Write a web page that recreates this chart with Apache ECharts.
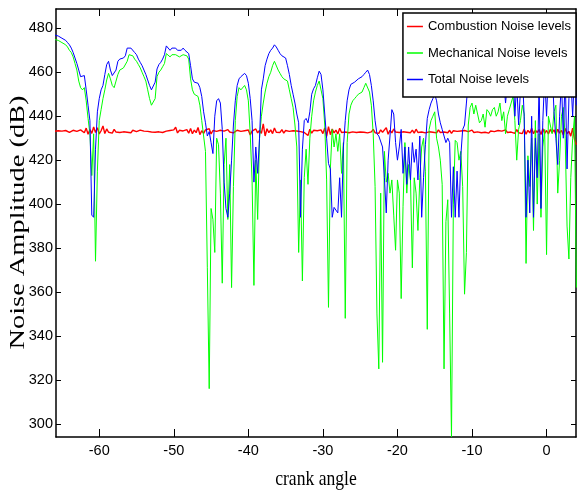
<!DOCTYPE html>
<html>
<head>
<meta charset="utf-8">
<script src="https://cdn.jsdelivr.net/npm/echarts@6/dist/echarts.min.js"></script>
<style>
  html, body { margin: 0; padding: 0; background: #fff; }
  #chart { width: 577px; height: 491px; }
</style>
</head>
<body>
<div id="chart"></div>
<script>
// Crank-angle sampling: from -66 deg in steps of 0.25 deg
const angleStart = -66;
const angleStep = 0.25;

// Tick positions on both axes
const angleTicks = [-60, -50, -40, -30, -20, -10, 0];
const levelTicks = [300, 320, 340, 360, 380, 400, 420, 440, 460, 480];

const seriesNames = ['Combustion Noise levels', 'Mechanical Noise levels', 'Total Noise levels'];

// Combustion noise level (dB) per sample
const combustion = [
  433.1, 432.8, 433.4, 432.9, 433.2, 432.6, 433.5, 433.0, 432.7, 433.3,
  433.6, 432.9, 433.1, 432.4, 433.8, 433.0, 432.5, 434.6, 431.8, 433.9,
  432.2, 435.1, 432.6, 434.8, 431.9, 433.4, 435.6, 432.1, 434.2, 432.7,
  433.5, 432.3, 434.0, 432.8, 433.2, 432.6, 433.4, 432.9, 433.1, 432.7,
  433.3, 432.5, 433.6, 432.8, 433.0, 432.4, 433.7, 432.9, 433.2, 432.6,
  433.1, 433.5, 432.8, 433.0, 432.7, 433.3, 432.9, 433.4, 432.6, 433.0,
  433.2, 432.7, 433.5, 432.9, 433.8, 435.0, 432.4, 433.6, 432.8, 433.3,
  432.6, 433.9, 432.3, 434.4, 432.0, 433.7, 432.5, 434.9, 431.6, 433.4,
  432.2, 433.8, 432.9, 434.3, 431.9, 433.5, 432.6, 433.1, 432.8, 433.6,
  432.7, 433.2, 432.5, 433.9, 432.8, 433.3, 432.4, 433.0, 433.6, 432.7,
  433.1, 432.5, 433.4, 432.9, 433.7, 431.5, 433.2, 432.8, 434.2, 432.4,
  433.6, 432.2, 436.5, 431.0, 434.3, 432.5, 433.8, 432.1, 434.6, 432.7,
  433.2, 432.6, 433.9, 432.3, 433.5, 432.8, 433.1, 432.7, 433.4, 432.9,
  433.3, 432.4, 433.0, 433.7, 432.6, 433.2, 431.2, 434.1, 432.3, 433.6,
  432.8, 433.4, 432.5, 433.8, 432.1, 434.7, 430.8, 435.3, 431.6, 434.2,
  432.4, 433.7, 431.9, 434.5, 432.6, 433.3, 432.8, 433.0, 432.5, 433.4,
  432.9, 433.2, 432.6, 433.5, 432.8, 433.1, 432.7, 433.6, 432.4, 433.3,
  432.9, 434.0, 432.5, 433.4, 432.2, 433.8, 432.7, 433.1, 434.8, 431.8,
  433.6, 432.4, 434.2, 432.8, 433.0, 432.6, 433.5, 432.9, 433.2, 432.7,
  433.4, 432.5, 433.7, 432.3, 434.1, 432.6, 433.3, 432.8, 433.6, 432.4,
  433.2, 432.9, 433.5, 432.7, 433.1, 432.4, 433.8, 432.6, 433.3, 432.8,
  433.0, 432.5, 433.6, 432.2, 433.4, 432.7, 433.1, 432.9, 433.3, 432.6,
  433.5, 432.8, 433.0, 432.4, 433.7, 432.6, 433.2, 432.9, 433.4, 432.5,
  433.1, 432.7, 433.6, 432.3, 433.3, 432.8, 433.0, 432.6, 433.5, 432.9,
  433.2, 432.4, 433.8, 432.6, 433.1, 432.8, 433.4, 432.2, 433.9, 432.5,
  433.3, 432.1, 434.2, 431.8, 433.6, 432.4, 434.5, 432.0, 433.7, 432.6,
  433.9, 431.7, 434.3, 432.2, 433.5, 431.9, 434.0, 432.5, 433.8, 431.6,
  434.1, 432.3, 433.6, 431.4, 434.4, 432.0, 433.2, 430.9, 434.6, 429.5,
  427.0
];

// Mechanical noise level (dB) per sample
const mechanical = [
  475, 475, 474.5, 474, 473.5, 473, 472.5, 471.5, 470, 469,
  467, 464, 461, 456, 453, 452, 453, 447, 439, 432,
  413, 432, 374, 415, 438, 443, 448, 452, 456.5, 459.5,
  457, 454, 453, 456, 459, 461, 461.5, 462, 462.5, 465,
  468, 468.5, 467.5, 466, 465, 463.5, 462, 460, 458, 456,
  452, 448, 445, 445.5, 448, 458, 460, 461, 462.5, 464,
  468.5, 468, 467, 468, 468.5, 468, 467.5, 467, 467.5, 468,
  468, 467.5, 466, 457, 452, 450, 449.5, 449, 445, 438,
  431, 424, 371, 316, 398, 393, 378, 430, 427, 405,
  364, 418, 430, 393, 418, 362, 408, 438, 449, 453,
  452, 452.5, 454, 452, 447, 432, 411, 363, 420, 393,
  430, 440, 446, 451, 455, 458, 460, 463, 465, 464.5,
  461, 459.5, 458, 457, 457, 456, 452, 448, 444, 436,
  426, 378, 411, 365, 412, 425, 409, 430, 440, 447,
  451, 454, 456, 456, 448, 436, 411, 353, 416, 434,
  426, 432, 424, 432, 414, 428, 348, 428, 441, 445,
  447, 448, 449, 450, 450, 451, 453, 455, 455, 451,
  445, 432, 408, 350, 325, 405, 328, 424, 410, 414,
  405, 411, 395, 379, 411, 405, 357, 399, 428, 405,
  418, 411, 371, 412, 405, 388, 412, 426, 430, 415,
  343, 434, 438, 440, 442, 430, 426, 420, 409, 325,
  392, 402, 350, 294, 400, 429, 428, 420, 424, 408,
  359, 378, 436, 444, 446, 441, 445, 441, 437, 438,
  441, 435, 443, 442, 440, 443, 444, 440, 442, 446,
  438, 442, 432, 440, 443, 446, 449, 438, 420, 434,
  438, 445, 441, 373, 422, 408, 430, 388, 438, 400,
  432, 394, 426, 434, 377, 440, 436, 432, 442, 445,
  405, 420, 440, 444, 430, 390, 375, 412, 430, 440,
  362
];

// Total noise level (dB) per sample
const total = [
  477, 477, 476.5, 476, 475.5, 475, 474.5, 473.5, 472.5, 471,
  469, 466.5, 464, 461, 458, 457.5, 458.5, 452, 445, 438,
  395, 394, 425, 442, 448, 452, 454, 459, 463.5, 465,
  461, 458.5, 458, 461, 465, 466, 466.5, 466.5, 467.5, 471,
  471.5, 471, 470.5, 469, 468, 466, 464.5, 463, 461, 459,
  456.5, 454, 452, 452.5, 455.5, 461.5, 463.5, 464.5, 466, 468,
  472, 471.5, 470, 471, 470.5, 471, 470, 470.5, 470, 471,
  470, 470.5, 468.5, 463, 457, 455.5, 456, 455, 453, 449,
  442, 437, 431, 433, 428, 423, 440, 447, 448, 446,
  434, 410, 398, 394, 405, 420, 436, 447, 454, 457,
  458, 458, 459.5, 458.5, 455, 448, 438, 410, 426, 414,
  430, 452, 457, 463, 466, 468.5, 470, 471, 472.5, 471.5,
  470, 468.5, 467.5, 467, 466.5, 463, 459, 454, 450, 446,
  441, 437, 394, 425, 438, 439, 437, 442, 450, 452.5,
  454, 457.5, 460.5, 459, 452, 441, 430, 418.5, 416, 394,
  398.5, 399, 396, 412, 394, 426, 438, 447, 452, 454.5,
  455, 455.5, 456, 457, 457.5, 458, 459, 460, 461, 459,
  454, 447, 438, 432, 431, 430.5, 426, 412, 396, 420,
  431, 443, 441, 428, 420, 426, 434, 414, 426, 409,
  426, 411, 428, 419, 425, 411, 431, 394, 412, 427,
  439, 443, 446, 448, 450, 447, 441, 437, 434, 431,
  428, 430, 428, 394, 417, 394, 415, 394, 422, 434,
  436, 446, 456, 462, 465, 462, 460, 458, 456, 457,
  455, 456, 458, 455, 450, 456, 460, 458, 456, 458,
  452, 456, 446, 455, 460, 452, 462, 440, 455, 436,
  452, 460, 440, 394, 420, 396, 440, 394, 430, 412,
  455, 398, 438, 458, 440, 460, 452, 462, 442, 430,
  418, 440, 456, 430, 460, 416, 448, 458, 440, 460,
  445
];

const angles = combustion.map((_, i) => angleStart + i * angleStep);
const pairs = (values) => values.map((v, i) => [angles[i], v]);

const sansFont = '"Liberation Sans", Arial, sans-serif';
const serifFont = '"Liberation Serif", "DejaVu Serif", serif';

const chart = echarts.init(document.getElementById('chart'), null, { renderer: 'canvas' });

const frameLine = { show: true, onZero: false, lineStyle: { color: '#000', width: 1.5 } };
const tickStyle = { color: '#000', width: 1 };

chart.setOption({
  animation: false,
  backgroundColor: '#fff',
  grid: { left: 56, right: 1, top: 9, bottom: 54, containLabel: false },
  xAxis: [
    {
      type: 'value', min: -65.8, max: 3.95, position: 'bottom',
      axisLine: frameLine,
      axisTick: { show: true, inside: true, length: 8, customValues: angleTicks, lineStyle: tickStyle },
      axisLabel: { show: true, customValues: angleTicks, margin: 6, color: '#000', fontSize: 14.5, fontFamily: sansFont },
      splitLine: { show: false }
    },
    {
      type: 'value', min: -65.8, max: 3.95, position: 'top',
      axisLine: frameLine,
      axisTick: { show: true, inside: true, length: 7, customValues: angleTicks, lineStyle: tickStyle },
      axisLabel: { show: false },
      splitLine: { show: false }
    }
  ],
  yAxis: [
    {
      type: 'value', min: 294, max: 488.8, position: 'left',
      axisLine: frameLine,
      axisTick: { show: true, inside: true, length: 5, customValues: levelTicks, lineStyle: tickStyle },
      axisLabel: { show: true, customValues: levelTicks, margin: 3, color: '#000', fontSize: 14.5, fontFamily: sansFont },
      splitLine: { show: false }
    },
    {
      type: 'value', min: 294, max: 488.8, position: 'right',
      axisLine: frameLine,
      axisTick: { show: true, inside: true, length: 5, customValues: levelTicks, lineStyle: tickStyle },
      axisLabel: { show: false },
      splitLine: { show: false }
    }
  ],
  legend: {
    data: seriesNames,
    orient: 'vertical',
    right: 1, top: 13,
    z: 20,
    icon: 'rect',
    padding: [7, 5, 11, 4],
    itemGap: 13.5, itemWidth: 16, itemHeight: 1.5, itemTextGap: 2,
    backgroundColor: '#fff', borderColor: '#000', borderWidth: 1.5, borderRadius: 0,
    textStyle: { color: '#000', fontSize: 13, fontFamily: sansFont }
  },
  series: [
    {
      name: seriesNames[0], type: 'line', data: pairs(combustion),
      showSymbol: false, symbol: 'none',
      lineStyle: { color: '#ff0000', width: 1.4 }, itemStyle: { color: '#ff0000' }, z: 2
    },
    {
      name: seriesNames[1], type: 'line', data: pairs(mechanical),
      showSymbol: false, symbol: 'none',
      lineStyle: { color: '#00ff00', width: 1 }, itemStyle: { color: '#00ff00' }, z: 2
    },
    {
      name: seriesNames[2], type: 'line', data: pairs(total),
      showSymbol: false, symbol: 'none',
      lineStyle: { color: '#0000ff', width: 1 }, itemStyle: { color: '#0000ff' }, z: 2
    }
  ],
  graphic: [
    {
      type: 'text', x: 18.5, y: 222.5, rotation: Math.PI / 2, scaleX: 1.42,
      style: { text: 'Noise Amplitude (dB)', font: '20px ' + serifFont, fill: '#000', align: 'center', verticalAlign: 'middle' }
    },
    {
      type: 'text', x: 316, y: 479.3, scaleX: 0.8,
      style: { text: 'crank angle', font: '22px ' + serifFont, fill: '#000', align: 'center', verticalAlign: 'middle' }
    }
  ]
});
</script>
</body>
</html>
